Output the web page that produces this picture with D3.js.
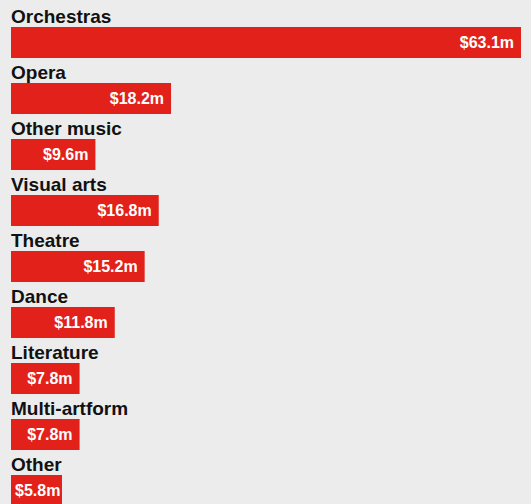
<!DOCTYPE html>
<html>
<head>
<meta charset="utf-8">
<script src="https://cdn.jsdelivr.net/npm/d3@7"></script>
<style>
  html, body { margin: 0; padding: 0; background: #ececec; }
  svg { display: block; }
  .cat { font-family: "Liberation Sans", Arial, sans-serif; font-weight: 700; font-size: 19px; fill: #111; }
  .val { font-family: "Liberation Sans", Arial, sans-serif; font-weight: 700; font-size: 16px; fill: #fff; }
</style>
</head>
<body>
<script>
// Funding by artform, in millions of dollars
const categories = ["Orchestras", "Opera", "Other music", "Visual arts", "Theatre", "Dance", "Literature", "Multi-artform", "Other"];
const amounts = [63.1, 18.2, 9.6, 16.8, 15.2, 11.8, 7.8, 7.8, 5.8];
const valueLabels = ["$63.1m", "$18.2m", "$9.6m", "$16.8m", "$15.2m", "$11.8m", "$7.8m", "$7.8m", "$5.8m"];

const width = 531, height = 504;
const left = 11, right = 521;

const svg = d3.select("body").append("svg")
  .attr("width", width)
  .attr("height", height);

// The largest bar runs to the edge of the plotting area
const x = d3.scaleLinear().domain([0, 58]).range([0, right - left]).clamp(true);
const y = d3.scaleBand().domain(categories).range([0, height]).padding(0);

const rows = svg.selectAll("g.row")
  .data(categories.map((c, i) => ({ cat: c, value: amounts[i], label: valueLabels[i] })))
  .join("g")
  .attr("class", "row")
  .attr("transform", d => `translate(0,${y(d.cat)})`);

rows.append("text")
  .attr("class", "cat")
  .attr("x", left)
  .attr("y", 22.5)
  .text(d => d.cat);

rows.append("rect")
  .attr("x", left)
  .attr("y", 27)
  .attr("width", d => x(d.value))
  .attr("height", 31)
  .attr("fill", "#e3211b");

rows.append("text")
  .attr("class", "val")
  .attr("y", 27 + 15.5)
  .attr("dy", "0.35em")
  .attr("text-anchor", "end")
  .text(d => d.label)
  .attr("x", function (d) {
    const w = this.getComputedTextLength();
    const barEnd = left + x(d.value);
    return Math.max(barEnd - 7, left + 4 + w);
  });
</script>
</body>
</html>
